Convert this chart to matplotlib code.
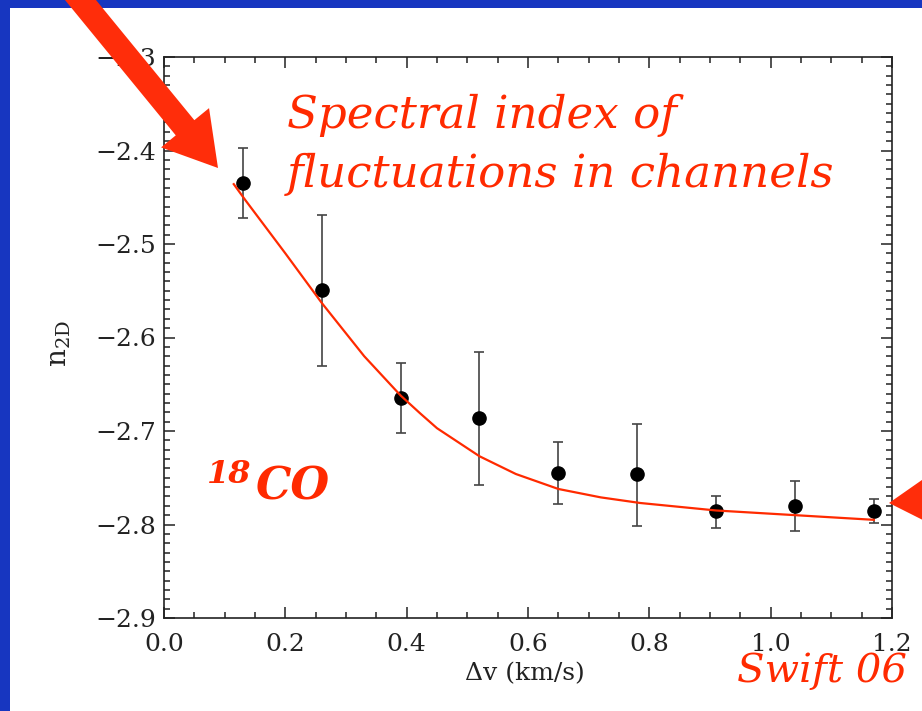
import numpy as np
import matplotlib
matplotlib.use('Agg')
import matplotlib.pyplot as plt
from matplotlib.patches import Rectangle, FancyArrow
from matplotlib.ticker import MultipleLocator, FuncFormatter
from matplotlib.transforms import IdentityTransform

# data
dv = [0.13, 0.26, 0.39, 0.52, 0.65, 0.78, 0.91, 1.04, 1.17]
n2d = [-2.435, -2.549, -2.665, -2.686, -2.745, -2.746, -2.786, -2.780, -2.786]
n2d_lo = [-2.472, -2.630, -2.702, -2.758, -2.778, -2.802, -2.804, -2.807, -2.798]
n2d_hi = [-2.397, -2.469, -2.627, -2.615, -2.712, -2.692, -2.769, -2.753, -2.773]

# fitted curve (red)
fit_dv = [0.115, 0.134, 0.20, 0.26, 0.33, 0.39, 0.422, 0.45, 0.52, 0.58,
          0.65, 0.72, 0.785, 0.91, 1.04, 1.17]
fit_n = [-2.436, -2.453, -2.510, -2.563, -2.620, -2.662, -2.681, -2.697,
         -2.727, -2.746, -2.762, -2.771, -2.777, -2.785, -2.790, -2.795]

W, H = 922, 711
RED = '#ff2a00'

def fx(x):
    return x / W

def fy(y):
    return 1 - y / H

fig = plt.figure(figsize=(9.22, 7.11), dpi=100, facecolor='#1736c0')
fig.patches.append(Rectangle((fx(10), 0), 1 - fx(10), fy(8), transform=fig.transFigure,
                             facecolor='white', edgecolor='none', zorder=-5))

ax = fig.add_axes([fx(164), fy(618), fx(892) - fx(164), fy(57) - fy(618)])

yerr = [np.array(n2d) - np.array(n2d_lo), np.array(n2d_hi) - np.array(n2d)]
ax.errorbar(dv, n2d, yerr=yerr, fmt='o', color='black', ms=9.5,
            ecolor='#444444', elinewidth=1.2, capsize=3.5, capthick=1.2, zorder=3)
ax.plot(fit_dv, fit_n, color=RED, lw=1.6, zorder=4)

fmt = FuncFormatter(lambda v, p: f'{v:.1f}'.replace('-', '\u2212'))
ax.set_xlim(0, 1.2)
ax.set_ylim(-2.9, -2.3)
ax.xaxis.set_major_locator(MultipleLocator(0.2))
ax.xaxis.set_minor_locator(MultipleLocator(0.05))
ax.yaxis.set_major_locator(MultipleLocator(0.1))
ax.yaxis.set_minor_locator(MultipleLocator(0.01))
ax.xaxis.set_major_formatter(fmt)
ax.yaxis.set_major_formatter(fmt)
ax.tick_params(which='both', direction='in', top=True, right=True, color='#222222', width=1.1)
ax.tick_params(which='major', length=8)
ax.tick_params(which='minor', length=4.3)
ax.tick_params(axis='x', pad=11, labelsize=18, labelcolor='#222222')
ax.tick_params(axis='y', pad=6, labelsize=18, labelcolor='#222222')
for lab in ax.get_xticklabels() + ax.get_yticklabels():
    lab.set_family('DejaVu Serif')
for s in ax.spines.values():
    s.set_linewidth(1.2)
    s.set_color('#222222')

ax.set_xlabel('Δv (km/s)', fontsize=18, family='DejaVu Serif', color='#222222')
ax.xaxis.set_label_coords(0.496, -0.078)
ax.set_ylabel(r'n$_{\mathregular{2D}}$', fontsize=20, family='DejaVu Serif', color='#222222')
ax.yaxis.set_label_coords(-0.125, 0.49)

# red annotations
fig.text(fx(287), fy(128), 'Spectral index of', fontsize=32.5, style='italic',
         family='DejaVu Serif', color=RED, va='baseline')
fig.text(fx(287), fy(187), 'fluctuations in channels', fontsize=32.5, style='italic',
         family='DejaVu Serif', color=RED, va='baseline')
fig.text(fx(207), fy(483), '18', fontsize=23, style='italic', weight='bold',
         family='DejaVu Serif', color=RED, va='baseline')
fig.text(fx(256), fy(500), 'CO', fontsize=32, style='italic', weight='bold',
         family='DejaVu Serif', color=RED, va='baseline')
fig.text(fx(737), fy(682), 'Swift 06', fontsize=29, style='italic',
         family='DejaVu Serif', color=RED, va='baseline')

# arrows (pixel coordinates)
fig.add_artist(FancyArrow(60, H + 25, 218 - 60, -(168 + 25), width=24, head_width=62,
                          head_length=52, length_includes_head=True,
                          transform=IdentityTransform(), color='#ff2d0a', lw=0, zorder=10))
fig.add_artist(FancyArrow(1000, H - 495, 889 - 1000, -8, width=24, head_width=62,
                          head_length=52, length_includes_head=True,
                          transform=IdentityTransform(), color='#ff2d0a', lw=0, zorder=10))

fig.savefig('out.png', dpi=100, facecolor=fig.get_facecolor())
